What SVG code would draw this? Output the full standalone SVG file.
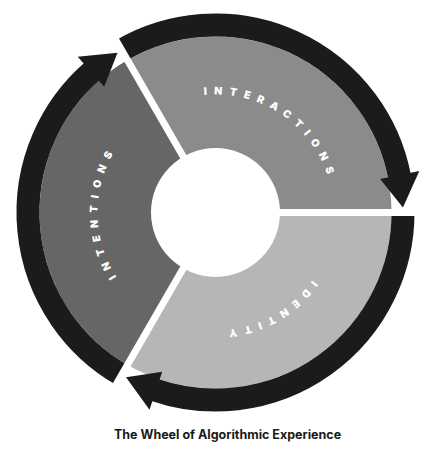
<svg xmlns="http://www.w3.org/2000/svg" width="432" height="455" viewBox="0 0 432 455">
  <style>
    .ring { fill: none; stroke: #1b1b1b; stroke-width: 23; }
    .head { fill: #1b1b1b; }
    .sep { stroke: #ffffff; stroke-width: 7; }
    .lbl { font-family: Inter, "Open Sans", "Liberation Sans", sans-serif; font-weight: 900; font-size: 10.5px; letter-spacing: 7px; fill: #ffffff; }
    .cap { font-family: Inter, "Liberation Sans", sans-serif; font-weight: 700; font-size: 12.5px; fill: #1a1a1a; }
  </style>
  <defs>
    <path id="p-interactions" d="M118.25 145.66 A118 118 0 0 1 312.75 279.34"/>
    <path id="p-identity" d="M318.71 155.29 A118 118 0 0 1 112.29 269.71"/>
    <path id="p-intentions" d="M215.5 330.5 A118 118 0 0 1 215.5 94.5"/>
  </defs>
  <rect width="432" height="455" fill="#ffffff"/>

  <g id="interactions">
    <path d="M215.5 212.5 L127.5 60.08 A176 176 0 0 1 391.5 212.5 Z" fill="#8b8b8b"/>
  </g>
  <g id="identity">
    <path d="M215.5 212.5 L391.5 212.5 A176 176 0 0 1 127.5 364.92 Z" fill="#b6b6b6"/>
  </g>
  <g id="intentions">
    <path d="M215.5 212.5 L127.5 364.92 A176 176 0 0 1 127.5 60.08 Z" fill="#666666"/>
  </g>

  <g id="connectors">
    <path class="ring" d="M121.75 50.12 A187.5 187.5 0 0 1 399.56 176.72"/>
    <path class="ring" d="M403 212.5 A187.5 187.5 0 0 1 154.46 389.78"/>
    <path class="ring" d="M121.75 374.88 A187.5 187.5 0 0 1 92.49 70.99"/>
    <line class="sep" x1="215.5" y1="212.5" x2="425.5" y2="212.5"/>
    <line class="sep" x1="215.5" y1="212.5" x2="110.5" y2="394.37"/>
    <line class="sep" x1="215.5" y1="212.5" x2="110.5" y2="30.63"/>
    <polygon class="head" points="419.32,171.03 402.94,207.59 380.13,179.01"/>
    <polygon class="head" points="149.5,409.75 126.03,377.28 162.19,371.82"/>
    <polygon class="head" points="77.68,56.72 117.53,52.63 104.18,86.67"/>
  </g>

  <g id="hub">
    <circle cx="215.5" cy="212.5" r="64.5" fill="#ffffff"/>
  </g>

  <g id="labels">
    <text class="lbl"><textPath href="#p-interactions" startOffset="50%" text-anchor="middle">INTERACTIONS</textPath></text>
    <text class="lbl"><textPath href="#p-identity" startOffset="50%" text-anchor="middle">IDENTITY</textPath></text>
    <text class="lbl"><textPath href="#p-intentions" startOffset="50%" text-anchor="middle">INTENTIONS</textPath></text>
  </g>

  <text class="cap" x="227.5" y="439" text-anchor="middle">The Wheel of Algorithmic Experience</text>
</svg>
